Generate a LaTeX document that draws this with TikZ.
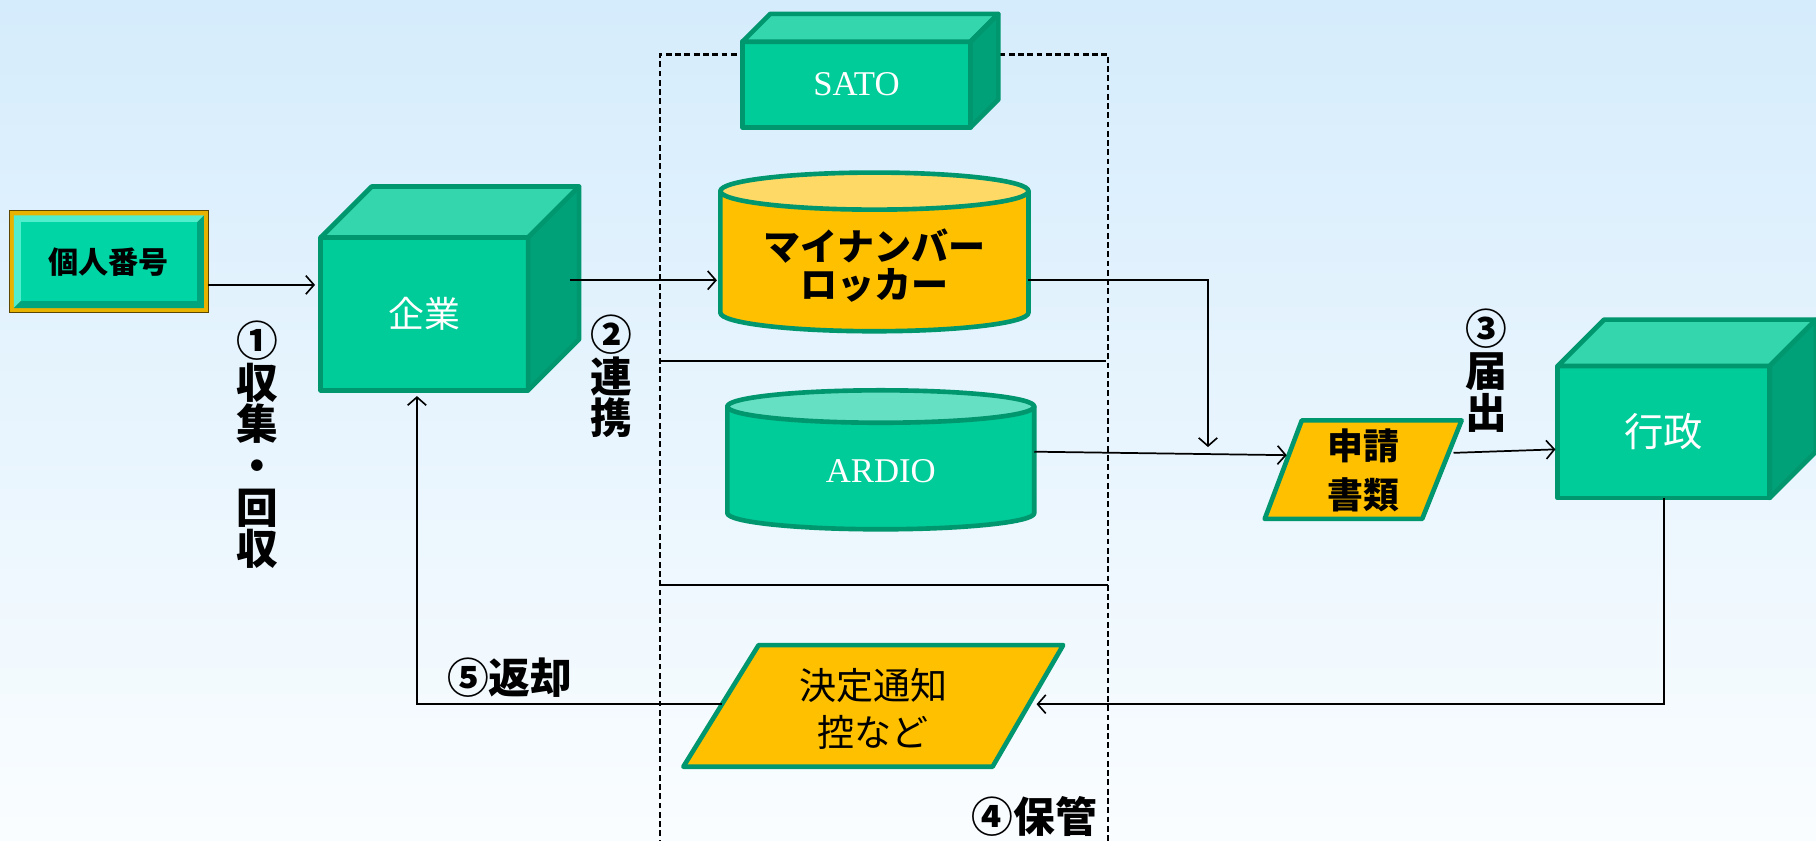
\documentclass[tikz,border=0pt]{standalone}
\usepackage{fontspec}
\setmainfont{Liberation Serif}
\newfontfamily\jp{Noto Sans CJK JP}
\usetikzlibrary{arrows.meta}

\definecolor{bgtop}{RGB}{213,236,252}
\definecolor{bgbot}{RGB}{250,253,255}
\definecolor{cFront}{RGB}{0,204,153}
\definecolor{cTop}{RGB}{51,214,173}
\definecolor{cSide}{RGB}{0,160,120}
\definecolor{cEdge}{RGB}{0,150,110}
\definecolor{cGold}{RGB}{255,192,0}
\definecolor{cGoldTop}{RGB}{255,217,102}
\definecolor{cTealTop}{RGB}{102,224,194}
\definecolor{cFrameGold}{RGB}{232,178,0}
\definecolor{cBevelHi}{RGB}{80,238,205}
\definecolor{cBevelLo}{RGB}{0,165,125}
\definecolor{cPlate}{RGB}{0,214,165}

\tikzset{
  conn/.style={line width=1.5pt, -{Straight Barb[length=7pt,width=16pt,line width=1.4pt]}},
  plainline/.style={line width=1.5pt},
  frame/.style={line width=1.9pt, dash pattern=on 5pt off 3pt},
  cubefront/.style={draw=cEdge, fill=cFront, line width=4pt, line join=round, inner sep=0pt, outer sep=0pt},
  cubetop/.style={draw=cEdge, fill=cTop, line width=4pt, line join=round},
  cubeside/.style={draw=cEdge, fill=cSide, line width=4pt, line join=round},
  cylside/.style={draw=cEdge, line width=4pt, line join=round},
  para/.style={draw=cEdge, fill=cGold, line width=4pt, line join=round},
  steptext/.style={font=\jp\bfseries\fontsize{36}{36}\selectfont, align=center, inner sep=0pt},
  boxtext/.style={font=\jp\bfseries\fontsize{31}{42}\selectfont, align=center, inner sep=0pt},
}

\begin{document}
\begin{tikzpicture}[x=1pt,y=1pt,yscale=-1]
	\useasboundingbox (0,0) rectangle (1568,726);
	\shade[top color=bgtop, bottom color=bgbot] (0,0) rectangle (1568,726);

	% dashed frame and separators
	\draw[frame] (570,730) -- (570,47) -- (957,47) -- (957,730);
	\draw[plainline] (570,312) -- (955,312);
	\draw[plainline] (570,505) -- (957,505);

	% 個人番号
	\node[draw=black!60!cFrameGold, fill=cFrameGold, line width=1pt, minimum width=172pt, minimum height=88pt, outer sep=0pt] (kojin) at (94,226) {};
	\fill[cBevelHi] (12,186) -- (176,186) -- (170,192) -- (18,192) -- (18,260) -- (12,266) -- cycle;
	\fill[cBevelLo] (176,186) -- (176,266) -- (12,266) -- (18,260) -- (170,260) -- (170,192) -- cycle;
	\fill[cPlate] (18,192) rectangle (170,260);
	\node[font=\jp\bfseries\fontsize{26}{26}\selectfont, inner sep=0pt] at (kojin.center) {個人番号};

	% 企業
	\node[cubefront, minimum width=179pt, minimum height=132pt, text=white, font=\jp\fontsize{31}{31}\selectfont] (kigyo) at (366.5,271) {企業};
	\draw[cubetop] (kigyo.north west) -- ++(44,-44) -- ++(179,0) -- (kigyo.north east) -- cycle;
	\draw[cubeside] (kigyo.north east) -- ++(44,-44) -- ++(0,132) -- (kigyo.south east) -- cycle;

	% SATO
	\node[cubefront, minimum width=197pt, minimum height=74pt, text=white, font=\fontsize{30}{30}\selectfont] (sato) at (739.5,73) {SATO};
	\draw[cubetop] (sato.north west) -- ++(24,-24) -- ++(197,0) -- (sato.north east) -- cycle;
	\draw[cubeside] (sato.north east) -- ++(24,-24) -- ++(0,74) -- (sato.south east) -- cycle;

	% マイナンバーロッカー
	\draw[cylside, fill=cGold] (622,165) -- (622,270) arc[start angle=180, end angle=0, x radius=133, y radius=16] -- (888,165) -- cycle;
	\draw[cylside, fill=cGoldTop] (755,165) ellipse [x radius=133, y radius=16];
	\node[boxtext, font=\jp\bfseries\fontsize{32}{33}\selectfont] (myna) at (755,229) {マイナンバー\\ロッカー};
	\coordinate (mynaL) at (619,242);
	\coordinate (mynaR) at (888,242);

	% ARDIO
	\draw[cylside, fill=cFront] (628,351) -- (628,443) arc[start angle=180, end angle=0, x radius=132.5, y radius=14] -- (893,351) -- cycle;
	\draw[cylside, fill=cTealTop] (760.5,351) ellipse [x radius=132.5, y radius=14];
	\node[text=white, font=\fontsize{30}{30}\selectfont, inner sep=0pt] (ardio) at (760.5,407) {ARDIO};
	\coordinate (ardioR) at (893,390);

	% 申請書類
	\draw[para] (1124,363) -- (1262,363) -- (1228,448) -- (1092,448) -- cycle;
	\node[boxtext] (shinsei) at (1177,406) {申請\\書類};
	\coordinate (shinseiL) at (1111,393);
	\coordinate (shinseiR) at (1255,391);
	\coordinate (drop) at (1043,386);

	% 行政
	\node[cubefront, minimum width=183pt, minimum height=114pt, text=white, font=\jp\fontsize{34}{34}\selectfont] (gyosei) at (1436.5,373) {行政};
	\draw[cubetop] (gyosei.north west) -- ++(40,-40) -- ++(183,0) -- (gyosei.north east) -- cycle;
	\draw[cubeside] (gyosei.north east) -- ++(40,-40) -- ++(0,114) -- (gyosei.south east) -- cycle;

	% 決定通知控など
	\draw[para] (655,557) -- (918,557) -- (857,662) -- (590,662) -- cycle;
	\node[boxtext, font=\jp\fontsize{32}{40}\selectfont] (kettei) at (754,612) {決定通知\\控など};
	\coordinate (ketteiL) at (623,608);
	\coordinate (ketteiR) at (895,608);
	\coordinate (retUp) at (360,342);

	% connectors
	\draw[conn] ([yshift=20pt]kojin.east) -- ([yshift=20pt,xshift=-5pt]kojin.east -| kigyo.west);
	\draw[conn] ([xshift=36pt]kigyo.east |- mynaL) -- (mynaL);
	\draw[conn] (mynaR) -| (drop);
	\draw[conn] (ardioR) -- (shinseiL);
	\draw[conn] (shinseiR) -- ([xshift=-2pt,yshift=15pt]gyosei.west);
	\draw[conn] ([xshift=0.5pt]gyosei.south) |- (ketteiR);
	\draw[conn] (ketteiL) -| (retUp);

	% step labels
	\node[steptext] (collect) at (222,384) {①\\収\\集\\・\\回\\収};
	\node[steptext] (link) at (528,325) {②\\連\\携};
	\node[steptext] (submit) at (1283,320) {③\\届\\出};
	\node[steptext] (store) at (893,705) {④保管};
	\node[steptext] (giveback) at (440,585) {⑤返却};
\end{tikzpicture}
\end{document}
